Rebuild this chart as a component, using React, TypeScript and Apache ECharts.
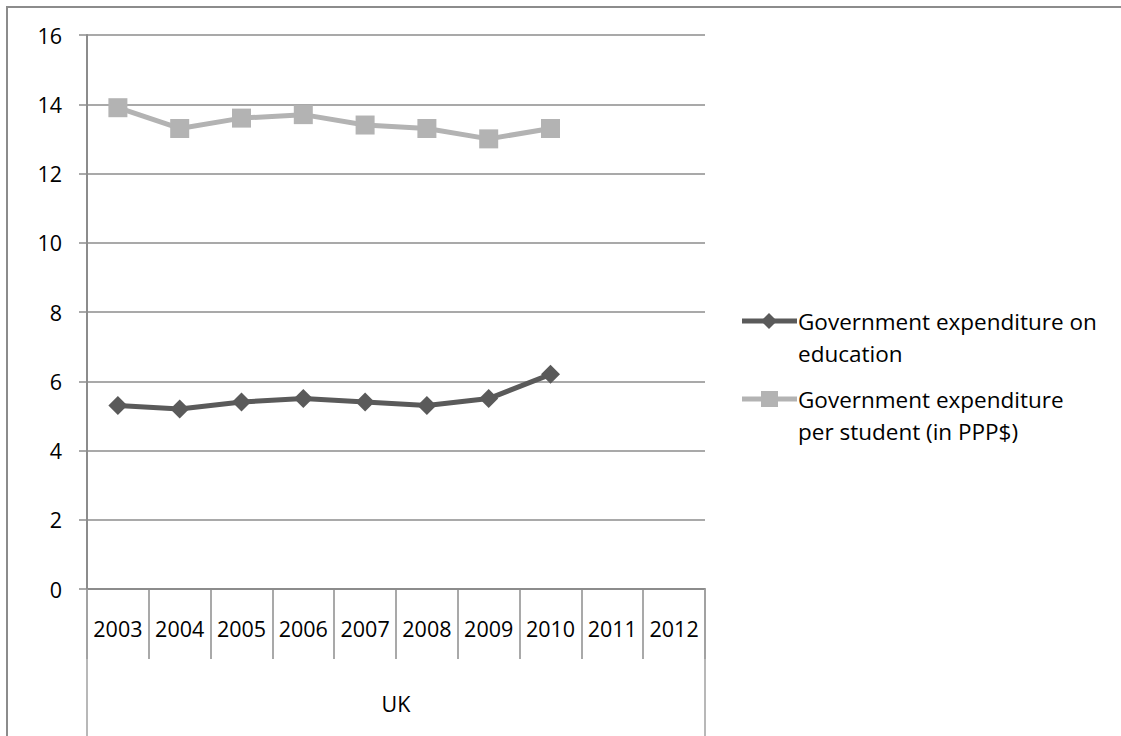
import React, { useEffect, useRef } from "react";
import * as echarts from "echarts";

const years = ["2003", "2004", "2005", "2006", "2007", "2008", "2009", "2010", "2011", "2012"];
const groupLabel = ["UK"];
const eduExpenditure = [5.3, 5.2, 5.4, 5.5, 5.4, 5.3, 5.5, 6.2, null, null];
const perStudent = [13.9, 13.3, 13.6, 13.7, 13.4, 13.3, 13.0, 13.3, null, null];
const seriesNames = ["Government expenditure on\neducation", "Government expenditure\nper student (in PPP$)"];

const DARK = "#5a5a5a";
const LIGHT = "#b3b3b3";
const GRID = "#8c8c8c";
const FONT = "Open Sans";

export default function App() {
  const ref = useRef<HTMLDivElement>(null);
  useEffect(() => {
    if (!ref.current) return;
    const chart = echarts.init(ref.current, null, { renderer: "svg" });
    const gl = 87, gt = 35, gw = 618, gh = 554;
    chart.setOption({
      animation: false,
      backgroundColor: "#ffffff",
      grid: { left: gl, top: gt, width: gw, height: gh },
      xAxis: [
        {
          type: "category",
          data: years,
          boundaryGap: true,
          axisLine: { show: true, lineStyle: { color: GRID, width: 2 } },
          axisTick: { show: true, length: 70, lineStyle: { color: GRID, width: 1.5 } },
          axisLabel: { color: "#000", fontFamily: FONT, fontSize: 21.5, margin: 28, interval: 0 },
          splitLine: { show: false },
        },
        {
          type: "category",
          data: groupLabel,
          position: "bottom",
          boundaryGap: true,
          axisLine: { show: false },
          axisTick: { show: true, length: 147, lineStyle: { color: "#a0a0a0", width: 1.5 } },
          axisLabel: { color: "#000", fontFamily: FONT, fontSize: 21.5, margin: 103 },
          splitLine: { show: false },
        },
      ],
      yAxis: {
        type: "value",
        min: 0,
        max: 16,
        interval: 2,
        axisLine: { show: true, lineStyle: { color: GRID, width: 2 } },
        axisTick: { show: true, length: 8, lineStyle: { color: GRID, width: 1.5 } },
        axisLabel: { color: "#000", fontFamily: FONT, fontSize: 21.5, margin: 25 },
        splitLine: { show: true, lineStyle: { color: GRID, width: 1.5 } },
      },
      series: [
        {
          name: seriesNames[0],
          type: "line",
          xAxisIndex: 0,
          data: eduExpenditure,
          symbol: "diamond",
          symbolSize: 19,
          itemStyle: { color: DARK },
          lineStyle: { color: DARK, width: 5 },
        },
        {
          name: seriesNames[1],
          type: "line",
          xAxisIndex: 0,
          data: perStudent,
          symbol: "rect",
          symbolSize: 19,
          itemStyle: { color: LIGHT },
          lineStyle: { color: LIGHT, width: 5 },
        },
      ],
      graphic: [
        {
          type: "rect",
          shape: { x: 7, y: 7, width: 1200, height: 800 },
          style: { fill: "none", stroke: GRID, lineWidth: 2 },
          silent: true,
        },
        {
          type: "line",
          shape: { x1: 742, y1: 321, x2: 797, y2: 321 },
          style: { stroke: DARK, lineWidth: 5 },
        },
        {
          type: "polygon",
          shape: { points: [[769, 313], [777, 321], [769, 329], [761, 321]] },
          style: { fill: DARK },
        },
        {
          type: "text",
          x: 798,
          y: 305,
          style: { text: seriesNames[0], fill: "#000", fontFamily: FONT, fontSize: 22.5, lineHeight: 32, verticalAlign: "top" },
        },
        {
          type: "line",
          shape: { x1: 742, y1: 399, x2: 797, y2: 399 },
          style: { stroke: LIGHT, lineWidth: 5 },
        },
        {
          type: "rect",
          shape: { x: 761, y: 391, width: 17, height: 16 },
          style: { fill: LIGHT },
        },
        {
          type: "text",
          x: 798,
          y: 383,
          style: { text: seriesNames[1], fill: "#000", fontFamily: FONT, fontSize: 22.5, lineHeight: 32, verticalAlign: "top" },
        },
      ],
    });
    return () => chart.dispose();
  }, []);
  return <div ref={ref} style={{ position: "absolute", left: 0, top: 0, width: 1121, height: 736 }} />;
}
